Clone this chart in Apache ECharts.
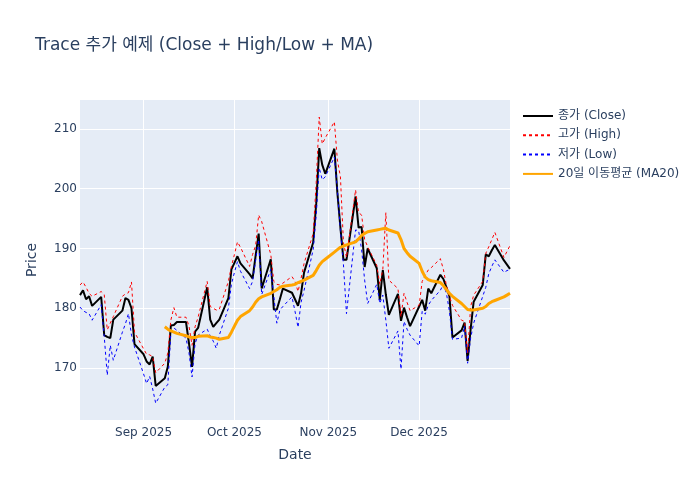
<!DOCTYPE html>
<html>
<head>
<meta charset="utf-8">
<script src="https://cdn.jsdelivr.net/npm/echarts@6/dist/echarts.min.js"></script>
<style>
  html, body { margin: 0; padding: 0; background: #fff; }
  #chart { width: 700px; height: 500px; }
</style>
</head>
<body>
<div id="chart"></div>
<script>
// trading days (business days) Aug 11 - Dec 31, 2025
const dates = [
  '2025-08-11','2025-08-12','2025-08-13','2025-08-14','2025-08-15',
  '2025-08-18','2025-08-19','2025-08-20','2025-08-21','2025-08-22',
  '2025-08-25','2025-08-26','2025-08-27','2025-08-28','2025-08-29',
  '2025-09-01','2025-09-02','2025-09-03','2025-09-04','2025-09-05',
  '2025-09-08','2025-09-09','2025-09-10','2025-09-11','2025-09-12',
  '2025-09-15','2025-09-16','2025-09-17','2025-09-18','2025-09-19',
  '2025-09-22','2025-09-23','2025-09-24','2025-09-25','2025-09-26',
  '2025-09-29','2025-09-30',
  '2025-10-01','2025-10-02','2025-10-03',
  '2025-10-06','2025-10-07','2025-10-08','2025-10-09','2025-10-10',
  '2025-10-13','2025-10-14','2025-10-15','2025-10-16','2025-10-17',
  '2025-10-20','2025-10-21','2025-10-22','2025-10-23','2025-10-24',
  '2025-10-27','2025-10-28','2025-10-29','2025-10-30','2025-10-31',
  '2025-11-03','2025-11-04','2025-11-05','2025-11-06','2025-11-07',
  '2025-11-10','2025-11-11','2025-11-12','2025-11-13','2025-11-14',
  '2025-11-17','2025-11-18','2025-11-19','2025-11-20','2025-11-21',
  '2025-11-24','2025-11-25','2025-11-26','2025-11-27','2025-11-28',
  '2025-12-01','2025-12-02','2025-12-03','2025-12-04','2025-12-05',
  '2025-12-08','2025-12-09','2025-12-10','2025-12-11','2025-12-12',
  '2025-12-15','2025-12-16','2025-12-17','2025-12-18','2025-12-19',
  '2025-12-22','2025-12-23','2025-12-24','2025-12-25','2025-12-26',
  '2025-12-29','2025-12-30','2025-12-31'
];

const closeVals = [
  182.2, 183.0, 181.5, 182.0, 180.4, 181.9, 175.5, 175.2, 175.0, 178.1, 179.6, 181.7, 181.4, 180.0, 174.0,
  172.3, 171.1, 170.6, 171.9, 167.0, 168.3, 170.2, 177.1, 177.2, 177.7, 177.7, 174.1, 170.2, 176.1, 176.7,
  183.5, 178.1, 176.9, 177.5, 178.1, 181.7, 186.5,
  187.6, 188.7, 187.5, 185.7, 185.0, 188.8, 192.5, 183.3, 188.2, 179.8, 179.8, 181.5, 183.3, 182.6, 181.5,
  180.4, 182.5, 186.0, 191.0, 197.5, 206.8, 204.0, 202.5,
  206.7, 199.3, 193.5, 188.1, 188.1, 198.7, 193.5, 193.6, 186.9, 190.0, 186.7, 181.4, 186.4, 182.3, 178.9,
  182.4, 177.9, 180.1, 178.5, 177.0,
  180.3, 181.4, 179.6, 183.3, 182.5, 185.6, 184.9, 183.5, 182.0, 175.1, 176.3, 177.6, 171.2, 176.5, 181.1,
  183.9, 189.0, 188.7, 189.7, 190.6, 188.0, 187.3, 186.6
];

const highVals = [
  183.9, 184.4, 183.5, 182.5, 182.0, 182.8, 182.3, 176.4, 177.5, 178.6, 182.0, 182.4, 182.6, 184.4, 176.0,
  173.2, 172.3, 172.2, 171.9, 169.2, 170.8, 172.5, 178.0, 180.1, 178.5, 178.5, 177.0, 173.8, 176.9, 178.5,
  184.5, 180.3, 180.0, 179.7, 179.8, 184.5, 187.0,
  189.0, 191.1, 190.2, 187.0, 189.0, 190.5, 195.6, 194.5, 189.0, 184.5, 184.0, 183.9, 184.2, 185.3, 184.5,
  182.8, 185.0, 187.5, 192.5, 201.0, 212.0, 207.5, 208.5,
  211.2, 204.8, 202.0, 191.0, 188.5, 199.8, 196.0, 195.6, 191.5, 190.3, 187.2, 184.0, 186.5, 196.0, 184.7,
  183.3, 178.6, 182.5, 181.0, 179.6,
  180.5, 184.5, 185.5, 186.4, 186.8, 188.3, 186.5, 183.8, 182.0, 180.5, 178.0, 177.8, 172.5, 180.3, 182.2,
  184.5, 189.2, 190.3, 191.5, 192.7, 188.5, 189.5, 190.5
];

const lowVals = [
  180.2, 179.6, 179.3, 179.1, 178.0, 180.6, 175.3, 168.8, 173.8, 171.3, 176.0, 177.4, 179.1, 175.5, 173.5,
  169.0, 167.4, 168.6, 166.5, 164.1, 166.8, 167.2, 175.8, 176.7, 176.3, 175.0, 172.5, 168.5, 174.1, 175.5,
  176.5, 175.4, 174.5, 173.3, 175.5, 180.0, 184.0,
  186.0, 187.8, 186.2, 183.3, 184.5, 188.0, 191.5, 182.3, 186.5, 182.0, 177.5, 179.7, 180.3, 181.9, 179.5,
  176.8, 181.0, 183.0, 189.8, 195.5, 203.5, 201.5, 202.0,
  205.3, 199.8, 193.0, 187.3, 179.1, 193.1, 193.0, 189.8, 184.7, 180.8, 184.0, 180.8, 182.2, 178.0, 173.3,
  176.2, 169.8, 177.8, 176.5, 175.5,
  173.7, 179.5, 179.0, 180.5, 181.3, 183.0, 184.0, 182.5, 179.5, 174.8, 175.0, 177.0, 170.8, 175.0, 177.5,
  182.0, 183.5, 185.8, 187.0, 188.1, 186.0, 186.3, 186.5
];

// 20-day moving average, first 20 days have no value
const ma20Vals = [
  null, null, null, null, null, null, null, null, null, null,
  null, null, null, null, null, null, null, null, null, null,
  176.9, 176.5, 176.2, 176.0, 175.8, 175.4, 175.2, 175.1, 175.1, 175.3,
  175.4, 175.2, 175.1, 175.0, 174.8, 175.1, 176.0,
  177.0, 178.0, 178.6, 179.6, 180.2, 181.0, 181.6, 181.9, 182.5, 182.8, 183.1, 183.5, 183.7, 183.9, 184.0,
  184.3, 184.5, 184.7, 185.5, 186.3, 187.2, 187.8, 188.2,
  189.4, 189.8, 190.2, 190.4, 190.6, 191.1, 191.6, 192.2, 192.5, 192.8, 193.1, 193.2, 193.3, 193.4, 193.1,
  192.6, 191.5, 190.0, 189.3, 188.7,
  187.5, 186.2, 185.2, 184.8, 184.6, 184.3, 183.8, 183.1, 182.5, 182.0, 180.8, 180.3, 179.8, 179.7, 179.7,
  180.0, 180.3, 180.8, 181.1, 181.3, 181.9, 182.2, 182.5
];

const yTicks = [170, 180, 190, 200, 210];
const xTickDates = ['2025-09-01', '2025-10-01', '2025-11-01', '2025-12-01'];
const monthNames = ['Jan','Feb','Mar','Apr','May','Jun','Jul','Aug','Sep','Oct','Nov','Dec'];

// date string -> timestamp (local time)
function ts(s) {
  const p = s.split('-').map(Number);
  return new Date(p[0], p[1] - 1, p[2]).getTime();
}
const xTicks = xTickDates.map(ts);
const pair = vals => dates.map((d, i) => [ts(d), vals[i]]);

const FONT = '"DejaVu Sans", "Noto Sans CJK KR", sans-serif';
const TXT = '#2a3f5f';

const chart = echarts.init(document.getElementById('chart'));
chart.setOption({
  animation: false,
  textStyle: { fontFamily: FONT, color: TXT },
  title: {
    text: 'Trace 추가 예제 (Close + High/Low + MA)',
    left: 30,
    top: 32,
    textStyle: { fontFamily: FONT, fontSize: 17, fontWeight: 'normal', color: TXT }
  },
  legend: {
    orient: 'vertical',
    left: 517,
    top: 105,
    itemWidth: 30,
    itemHeight: 14,
    itemGap: 7.3,
    itemStyle: { opacity: 0 },
    textStyle: { fontFamily: FONT, fontSize: 12, color: TXT },
    data: ['종가 (Close)', '고가 (High)', '저가 (Low)', '20일 이동평균 (MA20)']
  },
  grid: {
    left: 80,
    right: 190,
    top: 100,
    bottom: 80,
    show: true,
    backgroundColor: '#E5ECF6',
    borderWidth: 0
  },
  xAxis: {
    type: 'value',
    min: ts('2025-08-11'),
    max: ts('2025-12-31'),
    name: 'Date',
    nameLocation: 'middle',
    nameGap: 28,
    nameTextStyle: { fontFamily: FONT, fontSize: 14, color: TXT },
    axisLine: { show: false },
    axisTick: { show: false, customValues: xTicks },
    axisLabel: {
      customValues: xTicks,
      margin: 7,
      fontFamily: FONT,
      fontSize: 12,
      color: TXT,
      formatter: v => { const d = new Date(v); return monthNames[d.getMonth()] + ' ' + d.getFullYear(); }
    },
    splitLine: { show: true, lineStyle: { color: '#fff', width: 1 } }
  },
  yAxis: {
    type: 'value',
    min: 161.3,
    max: 214.85,
    name: 'Price',
    nameLocation: 'middle',
    nameGap: 41,
    nameTextStyle: { fontFamily: FONT, fontSize: 14, color: TXT },
    axisLine: { show: false },
    axisTick: { show: false, customValues: yTicks },
    axisLabel: { customValues: yTicks, margin: 3, fontFamily: FONT, fontSize: 12, color: TXT },
    splitLine: { show: true, lineStyle: { color: '#fff', width: 1 } }
  },
  series: [
    {
      name: '종가 (Close)',
      type: 'line',
      data: pair(closeVals),
      symbol: 'none',
      lineStyle: { color: '#000', width: 2 },
      itemStyle: { color: '#000' }
    },
    {
      name: '고가 (High)',
      type: 'line',
      data: pair(highVals),
      symbol: 'none',
      lineStyle: { color: 'red', width: 1, type: [3, 3] },
      itemStyle: { color: 'red' }
    },
    {
      name: '저가 (Low)',
      type: 'line',
      data: pair(lowVals),
      symbol: 'none',
      lineStyle: { color: 'blue', width: 1, type: [3, 3] },
      itemStyle: { color: 'blue' }
    },
    {
      name: '20일 이동평균 (MA20)',
      type: 'line',
      data: pair(ma20Vals),
      symbol: 'none',
      lineStyle: { color: 'orange', width: 3 },
      itemStyle: { color: 'orange' }
    }
  ]
});
</script>
</body>
</html>
